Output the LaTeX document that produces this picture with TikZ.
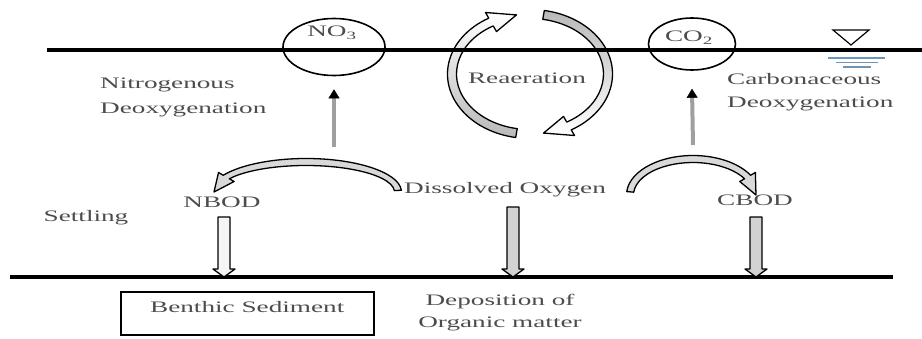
\documentclass[tikz,border=0pt]{standalone}
\usepackage{fontspec}
\setmainfont[FakeStretch=1.7]{Liberation Serif}
\usetikzlibrary{arrows.meta,shapes.geometric}
\definecolor{txt}{gray}{0.3}
\definecolor{wl}{RGB}{110,150,185}
\newcommand{\dnarrow}[3]{%
  \draw[blk, fill=#3] (#1-6,#2) -- (#1+6,#2) -- (#1+6,69) -- (#1+11,69) -- (#1,61) -- (#1-11,69) -- (#1-6,69) -- cycle;}
\begin{document}
\begin{tikzpicture}[x=1pt,y=1pt,
  lbl/.style={text=txt, font=\fontsize{16}{22}\selectfont, inner sep=0pt},
  one/.style={lbl, text height=11pt, text depth=3pt},
  surface/.style={line width=3.5pt},
  gas/.style={draw, ellipse, line width=1.6pt, inner sep=0pt},
  blk/.style={draw=black, line width=1.3pt, line join=round},
  uparrow/.style={draw=gray!75, line width=4pt, -{Triangle[color=black, length=9pt, width=11pt, line width=0.4pt]}}]
\useasboundingbox (0,0) rectangle (922,338);

% gas ellipses
\node[gas, minimum width=102pt, minimum height=57pt] (no3) at (334,291) {};
\node[gas, minimum width=87pt, minimum height=52pt] (co2) at (692,294) {};
\node[one] (no3t) at (332,305) {NO\textsubscript{3}};
\node[one] (co2t) at (689,300) {CO\textsubscript{2}};

% reaeration arrows
\begin{scope}[shift={(530,264)}]
\draw[blk, top color=white, bottom color=gray!55]
  (260:82.5 and 64.5) arc[start angle=260, end angle=120, x radius=82.5, y radius=64.5]
  -- (120:89 and 71) -- (100:78 and 60) -- (120:67 and 49)
  -- (120:73.5 and 55.5) arc[start angle=120, end angle=260, x radius=73.5, y radius=55.5] -- cycle;
\draw[blk, top color=gray!55, bottom color=white]
  (80:82.5 and 64.5) arc[start angle=80, end angle=-60, x radius=82.5, y radius=64.5]
  -- (-60:89 and 71) -- (-80:78 and 60) -- (-60:67 and 49)
  -- (-60:73.5 and 55.5) arc[start angle=-60, end angle=80, x radius=73.5, y radius=55.5] -- cycle;
\end{scope}
\node[one] (rea) at (527,258) {Reaeration};

% water surface and bed
\coordinate (ws1) at (47,288);
\coordinate (ws2) at (922,288);
\draw[surface] (ws1) -- (ws2);
\coordinate (bd1) at (10,61);
\coordinate (bd2) at (893,61);
\draw[surface] (bd1) -- (bd2);

% water level symbol
\draw[line width=1.2pt] (833,308) -- (869,308) -- (851,293) -- cycle;
\draw[wl, line width=1.2pt] (828,280) -- (885,280);
\draw[wl, line width=1.2pt] (836,275.5) -- (878,275.5);
\draw[wl, line width=1.2pt] (843,271) -- (871,271);

% labels
\node[lbl, align=left, anchor=west, font=\fontsize{16}{25}\selectfont] (nd) at (100,241) {Nitrogenous\\Deoxygenation};
\node[lbl, align=left, anchor=west, font=\fontsize{16}{23}\selectfont] (cd) at (727,246) {Carbonaceous\\Deoxygenation};
\node[one] (set) at (86,121) {Settling};
\node[one] (nbod) at (222,135) {NBOD};
\node[one] (do) at (505,148) {Dissolved Oxygen};
\node[one] (cbod) at (755,136) {CBOD};
\node[lbl, align=center] (dep) at (500,25.5) {Deposition of\\Organic matter};
\node[draw=black, line width=1.5pt, text=txt, font=\fontsize{16}{22}\selectfont,
      minimum width=253pt, text height=17pt, text depth=18pt, inner ysep=4pt,
      anchor=north west] (bs) at (120,47) {Benthic Sediment};

% up arrows
\coordinate (nup) at (334,191);
\coordinate (cup) at (693,193);
\draw[uparrow] (nup) -- ([yshift=-13pt]no3.south);
\draw[uparrow] (cup) -- ([yshift=-18pt]co2.south);

% curved arrows DO -> NBOD and DO -> CBOD
\begin{scope}[shift={(306,146)}]
\draw[blk, fill=gray!30]
  (3:95.5 and 33.5) arc[start angle=3, end angle=150, x radius=95.5, y radius=33.5]
  -- (150:101 and 39) -- (180:92 and 30) -- (150:83 and 21)
  -- (150:88.5 and 26.5) arc[start angle=150, end angle=3, x radius=88.5, y radius=26.5] -- cycle;
\end{scope}
\begin{scope}[shift={(693,143)}]
\draw[blk, fill=gray!30]
  (175:66.5 and 39.5) arc[start angle=175, end angle=30, x radius=66.5, y radius=39.5]
  -- (30:72 and 45) -- (0:63 and 36) -- (30:54 and 27)
  -- (30:59.5 and 32.5) arc[start angle=30, end angle=175, x radius=59.5, y radius=32.5] -- cycle;
\end{scope}

% settling arrows
\dnarrow{224}{121}{gray!8}
\dnarrow{513}{131}{gray!35}
\dnarrow{756}{121}{gray!35}
\end{tikzpicture}
\end{document}
